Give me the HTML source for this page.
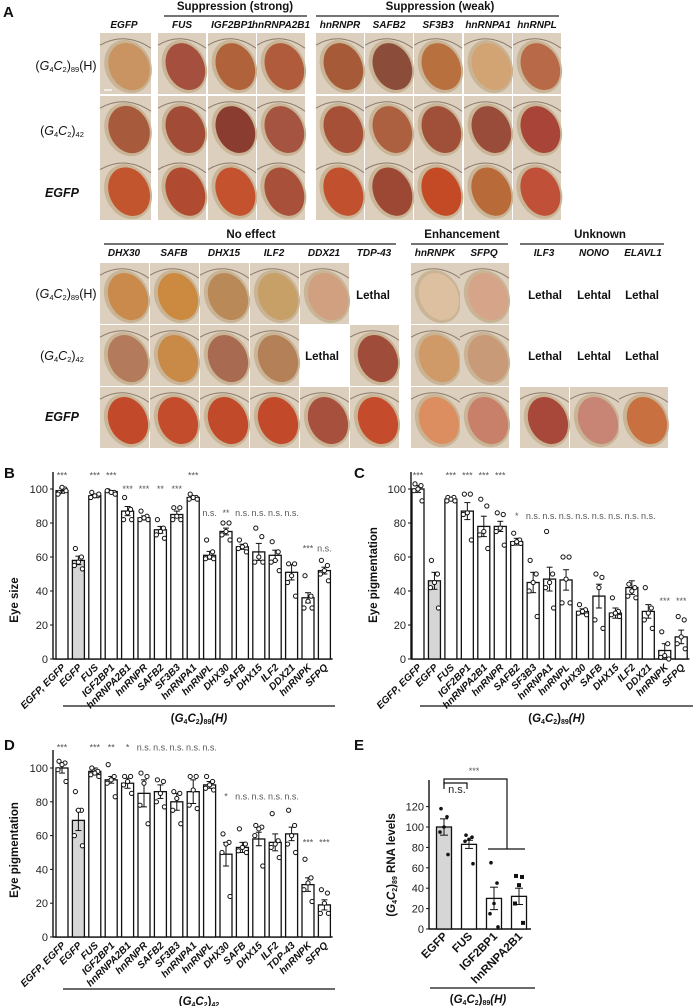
<!DOCTYPE html>
<html><head><meta charset="utf-8">
<style>
html,body{margin:0;padding:0;background:#fff;}
svg{display:block;font-family:"Liberation Sans",Arial,sans-serif;}
.hdr{font-weight:bold;font-size:11.5px;fill:#111;}
.col{font-weight:bold;font-style:italic;font-size:10px;fill:#111;}
.row{font-size:12.5px;fill:#111;}
.tick{font-size:11px;fill:#222;}
.cat{font-weight:bold;font-style:italic;font-size:10px;fill:#111;}
.sig{font-size:9px;fill:#555;}
.ttl{font-weight:bold;font-size:11.5px;fill:#111;}
.lbl{font-weight:bold;font-size:15px;fill:#111;}
</style></head>
<body>
<svg id="fig" width="693" height="1006" viewBox="0 0 693 1006" xmlns="http://www.w3.org/2000/svg">
<g id="panelA">
<text class="lbl" x="3" y="17">A</text>
<text class="hdr" x="235" y="10" text-anchor="middle">Suppression (strong)</text>
<line x1="164" y1="16" x2="307" y2="16" stroke="#222" stroke-width="1.3"/>
<text class="hdr" x="440" y="10" text-anchor="middle">Suppression (weak)</text>
<line x1="316" y1="16" x2="559" y2="16" stroke="#222" stroke-width="1.3"/>
<text class="hdr" x="251" y="238" text-anchor="middle">No effect</text>
<line x1="104" y1="244" x2="396" y2="244" stroke="#222" stroke-width="1.3"/>
<text class="hdr" x="462" y="238" text-anchor="middle">Enhancement</text>
<line x1="411" y1="244" x2="508" y2="244" stroke="#222" stroke-width="1.3"/>
<text class="hdr" x="600" y="238" text-anchor="middle">Unknown</text>
<line x1="520" y1="244" x2="664" y2="244" stroke="#222" stroke-width="1.3"/>
</g>
<g id="charts"></g>
</svg>
<script>
// ===== Panel A layout data =====
const topCols = ["EGFP","FUS","IGF2BP1","hnRNPA2B1","hnRNPR","SAFB2","SF3B3","hnRNPA1","hnRNPL"];
const topX = [100,158,208,257,316,365,414,464,513];
const topColors = [
 ["#c99462","#a5503e","#b0623a","#b05c3c","#a65a38","#8c4c3a","#b8703f","#d2a474","#b86a48"],
 ["#a85a3c","#a24c38","#8a3c30","#a45440","#a65038","#ad6040","#a05038","#9a4c3a","#a84438"],
 ["#c2542e","#b04a30","#c4522e","#a8503a","#c0502e","#9c4834","#c44a26","#b86a38","#c05038"]
];
const botCols = ["DHX30","SAFB","DHX15","ILF2","DDX21","TDP-43","hnRNPK","SFPQ","ILF3","NONO","ELAVL1"];
const botX = [100,150,200,250,300,350,411,460,520,570,619];
const botColors = [
 ["#c98a4c","#cc8a40","#b98a58","#c7a068","#d0a080",null,"#dcc0a0","#d6a488",null,null,null],
 ["#b47a5c","#c98a48","#a86a50","#b48058","#000","#a04c3a","#cf9a68","#c89a78",null,null,null],
 ["#c24a2a","#c24c2c","#c04a2a","#c24a2a","#a8503e","#c44c2c","#dc8e60","#c8806a","#a8483a","#c88474","#c87040"]
];
const svg = document.getElementById('fig');
const NS = "http://www.w3.org/2000/svg";
function el(tag, attrs, parent){const e=document.createElementNS(NS,tag);for(const k in attrs)e.setAttribute(k,attrs[k]);(parent||svg).appendChild(e);return e;}
const gA = document.getElementById('panelA');
function photo(x,y,w,h,c,name){
  const g=el('g',{},gA);
  
  
  el('rect',{x:x,y:y,width:w,height:h,fill:"#dccfbd"},g);
  el('path',{d:`M${x} ${y+h*0.2} Q${x+w*0.5} ${y-2} ${x+w} ${y+h*0.25}`,stroke:"#8a7a6a","stroke-width":1,fill:"none"},g);
  el('ellipse',{cx:x+w*0.55,cy:y+h*0.55,rx:w*0.45,ry:h*0.45,fill:"#c9b496",transform:`rotate(-25 ${x+w*0.55} ${y+h*0.55})`},g);
  el('ellipse',{cx:x+w*0.57,cy:y+h*0.55,rx:w*0.39,ry:h*0.40,fill:c,transform:`rotate(-25 ${x+w*0.57} ${y+h*0.55})`},g);
}
const topY=[33,96,157], topH=[61,61,63];
topCols.forEach((c,i)=>{
  const t=el('text',{class:'col',x:topX[i]+24,y:28,'text-anchor':'middle'},gA);t.textContent=c;
  
  
  for(let r=0;r<3;r++) photo(topX[i],topY[r],i==0?51:48,topH[r],topColors[r][i],'eye-photo-'+c.toLowerCase()+'-row'+(r+1));
});
const botY=[263,325,387];
botCols.forEach((c,i)=>{
  const t=el('text',{class:'col',x:botX[i]+24,y:256,'text-anchor':'middle'},gA);t.textContent=c;
  
  
  for(let r=0;r<3;r++){
    const col=botColors[r][i];
    if(col && col!=="#000") photo(botX[i],botY[r],49,61,col,'eye-photo-'+c.toLowerCase()+'-row'+(r+1));
  }
});
function txt(s,x,y,cls,name,anchor){const t=el('text',{class:cls,x:x,y:y,'text-anchor':anchor||'middle'},gA);t.innerHTML=s;return t;}
[[373,299],[322,360],[545,299],[594,299],[642,299],[545,360],[594,360],[642,360]].forEach((p,i)=>{
  const s=(p[0]==594)?'Lehtal':'Lethal';
  txt(s,p[0],p[1],'hdr','lethal-label');
});
const rowLab = ['(<tspan font-style="italic">G</tspan><tspan font-size="7.5" dy="2">4</tspan><tspan dy="-2" font-style="italic">C</tspan><tspan font-size="7.5" dy="2">2</tspan><tspan dy="-2">)</tspan><tspan font-size="7.5" dy="2">89</tspan><tspan dy="-2">(H)</tspan>',
 '(<tspan font-style="italic">G</tspan><tspan font-size="7.5" dy="2">4</tspan><tspan dy="-2" font-style="italic">C</tspan><tspan font-size="7.5" dy="2">2</tspan><tspan dy="-2">)</tspan><tspan font-size="7.5" dy="2">42</tspan>',
 '<tspan font-weight="bold" font-style="italic">EGFP</tspan>'];
[[70,135,197],[298,360,421]].forEach(ys=>ys.forEach((y,r)=>txt(rowLab[r],r==0?66:62,y,'row','row-label')));
el('line',{x1:104,y1:90,x2:112,y2:90,stroke:"#fff","stroke-width":1.2},gA);

// ===== Chart data =====
const catsBC = ["EGFP, EGFP","EGFP","FUS","IGF2BP1","hnRNPA2B1","hnRNPR","SAFB2","SF3B3","hnRNPA1","hnRNPL","DHX30","SAFB","DHX15","ILF2","DDX21","hnRNPK","SFPQ"];
const catsD = ["EGFP, EGFP","EGFP","FUS","IGF2BP1","hnRNPA2B1","hnRNPR","SAFB2","SF3B3","hnRNPA1","hnRNPL","DHX30","SAFB","DHX15","ILF2","TDP-43","hnRNPK","SFPQ"];
const valsB = [99,58,96,98.5,87,83,76,85,95,61,75,66,63,61,51,36,52];
const errB = [1.5,2.5,0.8,0.6,2.7,1.2,2,2,0.8,2.3,2,1.5,5,3,4.5,3,2];
const ptsB = [[98,100,101,97,99],[65,60,57,55,53],[98,96,96,95,97],[99,98,98,99,97],[95,88,86,82,82],[87,84,83,82,82],[82,77,75,73,71],[89,89,84,82,82],[97,95,95,94,94],[70,63,60,59,59],[80,80,75,73,70],[70,67,66,65,63],[77,72,60,57,57],[69,63,58,57,52],[56,56,49,45,37],[49,37,34,30,30],[58,55,52,50,46]];
const sigB = ["***","","***","***","***","***","**","***","***","n.s.","**","n.s.","n.s.","n.s.","n.s.","***","n.s."];
const sigLvB = [108,0,108,108,100,100,100,100,108,86,86,86,86,86,86,65,65];
const valsC = [100,46,94,87,78,78,69,45,47,46.5,28,37,27,42,28,5,13];
const errC = [2,5,1,5,6,3,2,6,7,6,1.5,7,3,4,4,4,4];
const ptsC = [[103,102,100,99,93],[58,50,45,42,30],[95,95,94,93,93],[97,97,86,85,70],[94,90,75,73,65],[86,85,77,75,67],[74,70,69,68,68],[58,50,45,40,25],[75,50,45,42,30],[60,60,47,33,33],[32,29,28,27,26],[50,48,42,23,18],[36,28,27,26,25],[44,42,40,37,36],[42,30,27,23,18],[16,9,2,1,0],[25,23,13,9,6]];
const sigC = ["***","","***","***","***","***","*","n.s.","n.s.","n.s.","n.s.","n.s.","n.s.","n.s.","n.s.","***","***"];
const sigLvC = [108,0,108,108,108,108,84,84,84,84,84,84,84,84,84,34,34];
const valsD = [100,69,98,93,91,85,86,80,86,90,49,53,58,56,61,31,19];
const errD = [3,6,2,2,3,8,4,5,7,2,7,3,4,5,4,4,3];
const ptsD = [[104,103,102,99,92],[86,75,75,60,54],[100,98,97,96,95],[102,95,93,91,83],[95,95,92,90,85],[97,95,91,78,67],[93,92,85,80,77],[86,85,82,75,67],[95,95,87,78,76],[95,92,90,88,87],[61,56,55,50,24],[64,55,53,51,50],[66,65,64,60,42],[73,57,55,53,47],[75,66,60,55,50],[46,35,32,28,21],[28,26,20,14,14]];
const sigD = ["***","","***","**","*","n.s.","n.s.","n.s.","n.s.","n.s.","*","n.s.","n.s.","n.s.","n.s.","***","***"];
const sigLvD = [112,0,112,112,112,112,112,112,112,112,83,83,83,83,83,56,56];
const catsE = ["EGFP","FUS","IGF2BP1","hnRNPA2B1"];
const valsE = [100,83,30,32];
const errE = [8,4,11,8];
const ptsE = [[118,110,100,95,73],[92,90,88,86,64],[65,45,25,15,2],[52,51,43,25,6]];
const ticks100 = [0,20,40,60,80,100];
const ticksE = [0,20,40,60,80,100,120];

const G = document.getElementById('charts');
function t2(parent,s,x,y,cls,anchor,extra){const t=el('text',Object.assign({class:cls,x:x,y:y,'text-anchor':anchor||'middle'},extra||{}),parent);t.innerHTML=s;return t;}
const jit=[-3,3,0,-4,4];

function barChart(o){
  const g=el('g',{},G);
  
  
  const ymap=v=>o.y0-(v/100)*(o.y0-o.y100);
  const xmap=i=>o.x0+i*o.step;
  el('line',{x1:o.ax,y1:o.top,x2:o.ax,y2:o.y0,stroke:"#111","stroke-width":1.4},g);
  el('line',{x1:o.ax,y1:o.y0,x2:xmap(o.cats.length-1)+o.step/2,y2:o.y0,stroke:"#111","stroke-width":1.6},g);
  ticks100.forEach(v=>{
    const y=ymap(v);
    el('line',{x1:o.ax-3,y1:y,x2:o.ax,y2:y,stroke:"#111"},g);
    const t=t2(g,String(v),o.ax-5,y+4,'tick','end');
    
    
  });
  o.cats.forEach((c,i)=>{
    const cx=xmap(i), y=ymap(o.vals[i]);
    const b=el('rect',{x:cx-6,y:y,width:12,height:o.y0-y,fill:i==1?"#d6d6d6":"#fff",stroke:"#111","stroke-width":1.3},g);
    
    
    const ye=ymap(o.vals[i]+o.err[i]), yl=ymap(o.vals[i]-o.err[i]);
    el('line',{x1:cx,y1:ye,x2:cx,y2:yl,stroke:"#111","stroke-width":1},g);
    el('line',{x1:cx-3,y1:ye,x2:cx+3,y2:ye,stroke:"#111","stroke-width":1},g);
    el('line',{x1:cx-3,y1:yl,x2:cx+3,y2:yl,stroke:"#111","stroke-width":1},g);
    o.pts[i].forEach((p,k)=>{
      const d=el('circle',{cx:cx+jit[k],cy:ymap(p),r:2.1,fill:"#fff",stroke:"#111","stroke-width":1},g);
      
      
    });
    if(o.sig[i]){
      const s=t2(g,o.sig[i],cx,ymap(o.sigLv[i])+3,'sig');
      
      
    }
    const lb=t2(g,c,0,0,'cat','end',{transform:`translate(${cx+4},${o.y0+9}) rotate(-45)`});
    
    
  });
  const yt=t2(g,o.ytitle,0,0,'ttl','middle',{transform:`translate(${o.ytx},${o.yty}) rotate(-90)`});
  
  
  el('line',{x1:o.ulx1,y1:o.uly,x2:o.ulx2,y2:o.uly,stroke:"#111","stroke-width":1.2},g);
  const gl=t2(g,o.glabel,(o.ulx1+o.ulx2)/2,o.uly+16,'ttl');
  
  
  const pl=t2(g,o.panel,o.plx,o.ply,'lbl','start');
  
  
}
const g89='(<tspan font-style="italic">G</tspan><tspan font-size="7" dy="2">4</tspan><tspan dy="-2" font-style="italic">C</tspan><tspan font-size="7" dy="2">2</tspan><tspan dy="-2">)</tspan><tspan font-size="7" dy="2">89</tspan><tspan dy="-2" font-style="italic">(H)</tspan>';
const g42='(<tspan font-style="italic">G</tspan><tspan font-size="7" dy="2">4</tspan><tspan dy="-2" font-style="italic">C</tspan><tspan font-size="7" dy="2">2</tspan><tspan dy="-2">)</tspan><tspan font-size="7" dy="2">42</tspan>';
barChart({name:'panel-b-eye-size-chart',cats:catsBC,vals:valsB,err:errB,pts:ptsB,sig:sigB,sigLv:sigLvB,ax:53,x0:62,step:16.4,y0:659,y100:489,top:472,ytitle:'Eye size',ytx:18,yty:600,ulx1:63,ulx2:335,uly:706,glabel:g89,panel:'B',plx:4,ply:478});
barChart({name:'panel-c-eye-pigmentation-chart',cats:catsBC,vals:valsC,err:errC,pts:ptsC,sig:sigC,sigLv:sigLvC,ax:411,x0:418,step:16.45,y0:659,y100:489,top:472,ytitle:'Eye pigmentation',ytx:377,yty:575,ulx1:420,ulx2:693,uly:706,glabel:g89,panel:'C',plx:354,ply:478});
barChart({name:'panel-d-eye-pigmentation-chart',cats:catsD,vals:valsD,err:errD,pts:ptsD,sig:sigD,sigLv:sigLvD,ax:53,x0:62,step:16.4,y0:937,y100:768,top:750,ytitle:'Eye pigmentation',ytx:18,yty:850,ulx1:63,ulx2:335,uly:989,glabel:g42,panel:'D',plx:4,ply:750});

// ===== Panel E =====
(function(){
  const g=el('g',{},G);
  
  
  const y0=929, y100=827, ax=429;
  const ymap=v=>y0-(v/100)*(y0-y100);
  const xmap=i=>444+i*25;
  el('line',{x1:ax,y1:780,x2:ax,y2:y0,stroke:"#111","stroke-width":1.4},g);
  el('line',{x1:ax,y1:y0,x2:xmap(3)+12,y2:y0,stroke:"#111","stroke-width":1.6},g);
  ticksE.forEach(v=>{
    const y=ymap(v);
    el('line',{x1:ax-3,y1:y,x2:ax,y2:y,stroke:"#111"},g);
    const t=t2(g,String(v),ax-5,y+4,'tick','end');
    
    
  });
  catsE.forEach((c,i)=>{
    const cx=xmap(i), y=ymap(valsE[i]);
    const b=el('rect',{x:cx-7.5,y:y,width:15,height:y0-y,fill:i==0?"#d6d6d6":"#fff",stroke:"#111","stroke-width":1.3},g);
    
    
    const ye=ymap(valsE[i]+errE[i]), yl=ymap(valsE[i]-errE[i]);
    el('line',{x1:cx,y1:ye,x2:cx,y2:yl,stroke:"#111"},g);
    el('line',{x1:cx-4,y1:ye,x2:cx+4,y2:ye,stroke:"#111"},g);
    el('line',{x1:cx-4,y1:yl,x2:cx+4,y2:yl,stroke:"#111"},g);
    ptsE[i].forEach((p,k)=>{
      let d;
      if(i==3) d=el('rect',{x:cx+jit[k]-2,y:ymap(p)-2,width:4,height:4,fill:"#111"},g);
      else d=el('circle',{cx:cx+jit[k],cy:ymap(p),r:1.8,fill:"#111"},g);
      
      
    });
    const lb=t2(g,c,0,0,'ttl','end',{transform:`translate(${cx+4},${y0+8}) rotate(-45)`});
    
    
  });
  const yt=t2(g,'(<tspan font-style="italic">G</tspan><tspan font-size="7" dy="2">4</tspan><tspan dy="-2" font-style="italic">C</tspan><tspan font-size="7" dy="2">2</tspan><tspan dy="-2">)</tspan><tspan font-size="7" dy="2">89</tspan><tspan dy="-2"> RNA levels</tspan>',0,0,'ttl','middle',{transform:`translate(395,865) rotate(-90)`});
  
  
  el('polyline',{points:`444,789 444,783 467,783 467,789`,fill:"none",stroke:"#111","stroke-width":1.2},g);
  t2(g,'n.s.',457,793,'tick','middle');
  el('polyline',{points:`444,785 444,779 507,779 507,849`,fill:"none",stroke:"#111","stroke-width":1.2},g);
  el('line',{x1:488,y1:849,x2:525,y2:849,stroke:"#111","stroke-width":1.2},g);
  t2(g,'***',474,774,'sig');
  el('line',{x1:430,y1:988,x2:535,y2:988,stroke:"#111","stroke-width":1.2},g);
  t2(g,g89,478,1003,'ttl');
  t2(g,'E',354,750,'lbl','start');
})();
</script>
</body></html>
